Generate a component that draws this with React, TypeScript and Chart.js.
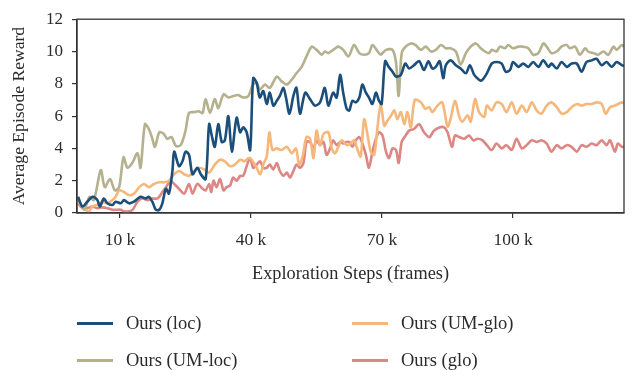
import React, { useEffect, useRef } from "react";
import { Chart, registerables } from "chart.js";

Chart.register(...registerables);

// ---- data (steps in thousands of frames, reward values) ----
const locSteps = [0.4,1.4,2.5,3.7,4.8,5.4,6.3,7.1,8.3,9,10.2,10.9,12.1,13.2,14.7,15.9,16.6,17.4,18.2,19,19.7,20.5,21.2,22,22.4,23.5,24.3,25,25.8,26.6,27.7,28.5,29.6,30.4,31,31.7,32.5,33.3,34,34.8,35.6,36.7,37.5,38.2,39,39.8,40.5,41.3,42,42.8,43.6,44.3,45.1,45.9,46.6,47.4,48,48.8,49.7,50.4,51.2,52.4,53.5,54.6,55.8,56.9,57.7,58.8,59.6,60.4,61.1,61.9,62.5,63.2,64,64.8,65.5,66.3,67,67.8,68.6,69.3,69.9,70.7,71.5,72.4,73.2,74.3,75.3,76.2,77.3,78.5,79.6,80.6,81.5,82.3,83.2,84,84.6,85.7,86.9,88,89.2,90.1,91.1,92.2,92.8,94,95.1,96.2,97.4,98.3,99.3,100,101.2,102.3,103.5,104.6,105.8,106.9,108.1,108.8,110,111.1,112.3,113.4,114.6,115.7,116.8,118,119.1,120.3,121.4,122.6,123.7,124.9,125.4];
const locReward = [1.0,0.4,0.7,1.0,0.8,0.4,0.9,0.6,0.5,0.7,0.6,0.8,0.6,0.7,1.0,0.9,1.0,0.7,0.2,0.2,0.6,1.5,1.2,2.6,3.8,2.9,3.2,3.8,3.6,2.4,2.8,2.4,2.1,5.5,4.8,4.1,5.5,4.4,4.5,6.0,3.8,5.9,5.0,5.3,5.0,3.9,8.35,8.05,7.15,7.55,6.75,7.45,6.65,6.95,7.25,7.75,7.15,6.15,7.25,7.75,6.15,7.45,7.05,6.65,6.85,7.75,6.65,7.45,7.15,8.55,7.45,6.45,6.35,6.95,6.85,7.15,7.95,7.45,7.15,6.75,7.45,6.95,6.75,9.4,9.05,8.75,8.45,8.55,9.25,8.95,9.15,9.4,8.85,9.4,8.95,9.05,9.4,8.35,9.15,9.45,9.15,8.95,8.65,9.15,8.55,8.25,8.2,8.65,9.25,9.35,9.25,8.75,8.85,9.35,9.05,9.25,9.05,9.35,9.05,9.45,9.05,9.25,8.95,9.35,9.05,9.25,9.25,8.75,9.35,9.45,9.55,9.15,9.35,9.05,9.35,9.15,9.1];

const umLocSteps = [0.4,1.8,3,4,5.6,6.5,7.7,8.8,9.8,10.8,11.7,12.8,14,14.7,15.7,16.6,17.4,18,19,20,20.8,21.8,22.8,23.9,25,25.8,27,28,28.9,29.6,30.6,31.7,32.5,33.7,34.8,36,37.1,38.2,39.4,40.4,41.3,42,43.2,44.3,45.9,47,48.2,49.3,50.4,51.6,52.7,53.9,55,56.2,56.9,57.7,58.8,60,61.1,62.3,63.6,64.8,65.9,67,67.8,69,69.7,70.9,72.4,73.2,73.8,74.5,75.4,76.6,77.7,78.9,80,81.2,82.3,83.5,84.6,85.7,86.9,88,89.2,90.3,91.5,92.6,93.6,94.5,95.1,96.2,97,98.1,98.9,100,101.2,102.3,103.5,104.6,105.8,106.9,107.7,108.8,110,111.1,112.3,113,114.2,115.3,116.5,117.2,118.4,119.5,120.7,121.8,123,123.7,124.9,125.4];
const umLocReward = [0.9,0.2,1.0,0.8,2.65,1.6,2.1,1.4,1.6,3.45,2.8,3.1,3.7,2.8,5.5,5.2,4.6,4.1,5.0,4.9,4.6,4.7,4.15,4.2,5.1,6.2,6.25,6.3,6.2,7.05,6.2,7.05,6.5,7.35,7.15,7.25,7.3,7.15,7.25,7.95,8.05,7.65,7.95,7.75,8.45,8.15,7.95,8.25,8.65,9.05,9.7,10.3,10.1,9.8,10.0,9.9,10.1,10.3,10.1,9.7,10.4,9.9,9.8,9.9,10.4,10.0,9.8,10.1,10.1,9.3,7.25,9.9,10.3,10.5,10.4,10.1,10.3,10.0,10.1,10.4,10.2,10.2,10.0,9.2,9.9,10.3,10.5,10.2,10.0,9.9,10.1,10.0,10.3,10.2,10.4,10.2,10.3,10.3,10.2,9.8,9.9,10.5,10.3,9.9,10.0,10.3,10.4,10.2,10.3,9.8,10.2,10.0,9.9,9.8,10.0,9.8,10.3,10.1,10.4,10.3];

const umGloSteps = [0.4,1.4,2.1,2.9,3.7,4.8,5.9,7.1,8.3,9,9.8,10.9,12.1,13.2,14.4,15.5,16.6,17.8,19,20.1,21.2,22.4,23.5,24.7,25.8,27,28.1,29.3,30.4,31.7,32.9,34,35.2,36.3,37.5,38.6,39.4,40.1,41.3,42.1,42.8,43.6,44.2,44.9,45.9,47,48.2,49.3,50.3,51,51.8,52.7,53.5,54.3,55,55.8,56.6,57.7,58.5,59.2,60,60.8,61.9,62.8,63.6,64.4,65.1,65.9,66.7,67.4,68.2,69,69.7,70.5,71.2,72,72.8,73.5,74.3,75.1,75.8,76.6,77.5,78.9,79.9,80.8,81.5,82.7,83.8,85,85.7,86.7,87.7,88.4,89.6,90.3,91.3,92.2,93.4,94,95.1,96.2,97.4,98.5,99.7,100.8,102,103.1,104.3,105.4,106.5,107.7,108.8,110,111.1,112.3,113.4,114.6,115.7,116.8,118,119.1,120.3,121.2,122.2,123.3,124.9,125.4];
const umGloReward = [0.7,0.4,0.2,0.1,0.4,0.5,0.7,0.6,0.8,1.0,1.4,1.3,1.1,1.2,1.6,1.8,1.6,1.8,1.9,1.9,2.0,2.4,2.6,2.4,2.3,2.6,2.8,2.7,2.5,3.0,3.3,3.2,2.9,3.0,3.3,3.2,3.4,3.3,2.8,2.4,3.0,3.5,5.0,3.9,4.0,3.9,4.1,3.7,4.0,3.0,3.5,4.7,4.6,3.4,5.1,4.2,4.9,5.0,4.0,3.7,4.1,4.5,4.2,4.3,4.5,3.9,3.5,5.8,4.8,3.8,3.6,5.4,6.75,5.4,5.7,6.0,6.35,5.8,6.25,5.5,6.25,5.3,7.0,6.85,6.45,6.55,6.25,6.65,6.85,5.35,5.85,6.95,5.95,5.65,6.05,5.65,7.05,6.25,5.95,6.65,6.35,6.85,6.75,6.25,6.85,6.15,6.65,6.25,6.85,6.35,6.15,6.65,6.85,6.55,6.15,6.25,6.55,6.75,6.65,6.75,6.75,6.85,6.75,6.15,6.55,6.65,6.85,6.8];

const gloSteps = [0.4,1.4,2.5,3.7,4.8,5.9,7.1,8.3,9,10.2,10.9,12.1,12.9,14,15.1,16.3,17.4,18.6,19.7,20.8,21.6,22.4,23.5,24.7,25.8,26.6,27.7,28.9,29.6,30.4,30.9,31.4,32.1,32.9,33.7,34.4,35.2,35.9,36.7,37.5,38.2,39,39.8,40.5,41.3,42.1,42.8,43.6,44.3,45.1,45.9,46.6,47.4,48.2,48.9,49.7,50.4,51.2,52,52.7,53.5,54.3,55,55.8,56.6,57.3,58.1,58.8,59.6,60.4,61.1,61.9,62.5,63.2,64,64.8,65.5,66.3,67,67.8,68.6,69.3,70.1,70.9,71.6,72.4,73.2,73.8,74.5,75.4,76.2,77.3,78.5,79.6,80.8,81.9,83.1,84.2,85,86,86.7,87.7,88.8,89.9,90.9,91.9,93,94,95.1,96.2,97.4,98.5,99.7,100.8,102,103.1,104.3,105.4,106.5,107.7,108.8,110,111.1,112.3,113.4,114.6,115.7,116.8,118,119.1,120.3,121.4,122.2,123.3,124,124.9,125.4];
const gloReward = [0.6,0.3,0.3,0.4,0.3,0.35,0.3,0.2,0.2,0.2,0.1,0.1,0.2,0.7,0.9,0.8,0.9,0.9,1.3,1.7,2.0,1.8,1.5,1.2,1.8,1.2,1.8,1.5,1.4,1.8,1.3,2.0,1.6,2.1,1.4,1.6,1.7,2.2,2.0,2.3,2.3,2.9,3.4,2.8,3.0,3.2,2.8,2.8,3.0,2.7,3.1,2.6,2.3,2.5,2.2,2.6,3.0,2.8,3.1,4.4,4.4,4.0,4.5,4.2,4.4,3.6,4.0,4.5,4.2,4.4,4.3,4.4,4.4,4.1,4.5,4.7,4.3,3.6,2.8,3.8,4.6,5.0,4.8,3.8,3.4,4.0,3.9,3.1,4.4,4.8,5.1,5.2,5.5,5.0,4.7,5.1,5.3,5.3,5.0,4.1,4.8,4.7,4.6,4.8,4.5,4.6,4.5,4.2,3.9,4.3,4.0,4.2,3.9,4.6,4.0,4.2,4.5,4.4,4.5,4.3,3.8,4.2,4.0,4.2,4.1,3.8,4.2,4.1,4.3,4.2,4.5,4.2,4.5,3.8,4.3,4.1,4.1];

const seriesNames = ["Ours (loc)", "Ours (UM-loc)", "Ours (UM-glo)", "Ours (glo)"];
const seriesColors = ["#1c4e7a", "#b5b08e", "#f6b87a", "#dd8784"];

const xTickValues = [10, 40, 70, 100];
const xTickLabels = ["10 k", "40 k", "70 k", "100 k"];
const yTickValues = [0, 2, 4, 6, 8, 10, 12];

const FONT = '"Liberation Serif", "Times New Roman", serif';
const TEXT = "#2b2b2b";
const AXIS = "#333333";

function toPoints(xs: number[], ys: number[]) {
  return xs.map((x, i) => ({ x, y: ys[i] }));
}

const boxPlugin = {
  id: "boxPlugin",
  afterDraw(chart: any) {
    const { ctx, chartArea } = chart;
    ctx.save();
    ctx.strokeStyle = AXIS;
    ctx.lineWidth = 1.3;
    ctx.strokeRect(chartArea.left, chartArea.top, chartArea.right - chartArea.left, chartArea.bottom - chartArea.top);
    ctx.restore();
  },
};

export default function App() {
  const ref = useRef<HTMLCanvasElement | null>(null);

  useEffect(() => {
    if (!ref.current) return;
    const all = [
      toPoints(locSteps, locReward),
      toPoints(umLocSteps, umLocReward),
      toPoints(umGloSteps, umGloReward),
      toPoints(gloSteps, gloReward),
    ];
    const chart = new Chart(ref.current, {
      type: "line",
      data: {
        datasets: all.map((d, i) => ({
          label: seriesNames[i],
          data: d,
          borderColor: seriesColors[i],
          backgroundColor: seriesColors[i],
          borderWidth: 2.6,
          pointRadius: 0,
          tension: 0.3,
          fill: false,
        })),
      },
      options: {
        responsive: false,
        animation: false,
        layout: { padding: { left: 0, right: 9, top: 15, bottom: 0 } },
        plugins: { legend: { display: false }, tooltip: { enabled: false } },
        scales: {
          x: {
            type: "linear",
            min: 0.15,
            max: 125.4,
            afterBuildTicks: (s: any) => {
              s.ticks = xTickValues.map((v) => ({ value: v }));
            },
            afterFit: (s: any) => {
              s.height = 157;
            },
            ticks: {
              autoSkip: false,
              maxRotation: 0,
              padding: 12,
              color: TEXT,
              font: { family: FONT, size: 17.5 },
              callback: (_v: any, i: number) => xTickLabels[i],
            },
            grid: { drawOnChartArea: false, drawTicks: true, tickLength: 5, color: AXIS, lineWidth: 1.2 },
            border: { display: true, color: AXIS, width: 1.3 },
            title: {
              display: true,
              text: "Exploration Steps (frames)",
              color: TEXT,
              font: { family: FONT, size: 18.3 },
              padding: { top: 0, bottom: 85 },
            },
          },
          y: {
            type: "linear",
            min: 0,
            max: 12,
            afterBuildTicks: (s: any) => {
              s.ticks = yTickValues.map((v) => ({ value: v }));
            },
            afterFit: (s: any) => {
              s.width = 77;
            },
            ticks: {
              padding: 9,
              color: TEXT,
              font: { family: FONT, size: 17 },
            },
            grid: { drawOnChartArea: false, drawTicks: true, tickLength: 5, color: AXIS, lineWidth: 1.2 },
            border: { display: true, color: AXIS, width: 1.3 },
            title: {
              display: true,
              text: "Average Episode Reward",
              color: TEXT,
              font: { family: FONT, size: 17.6 },
              padding: { top: 9, bottom: 0 },
            },
          },
        },
      },
      plugins: [boxPlugin],
    } as any);
    return () => chart.destroy();
  }, []);

  const legendPos = [
    { x: 77, y: 323 },
    { x: 77, y: 360 },
    { x: 352, y: 323 },
    { x: 352, y: 360 },
  ];

  return (
    <div style={{ position: "absolute", left: 0, top: 0, width: 633, height: 370, background: "#fff" }}>
      <canvas ref={ref} width={633} height={370} style={{ position: "absolute", left: 0, top: 0, width: 633, height: 370 }} />
      {seriesNames.map((name, i) => (
        <div
          key={name}
          style={{
            position: "absolute",
            left: legendPos[i].x,
            top: legendPos[i].y - 12,
            height: 24,
            display: "flex",
            alignItems: "center",
            fontFamily: FONT,
            fontSize: 18.5,
            color: TEXT,
            whiteSpace: "nowrap",
          }}
        >
          <span style={{ display: "inline-block", width: 36, height: 3, background: seriesColors[i], marginRight: 13 }} />
          <span>{name}</span>
        </div>
      ))}
    </div>
  );
}
